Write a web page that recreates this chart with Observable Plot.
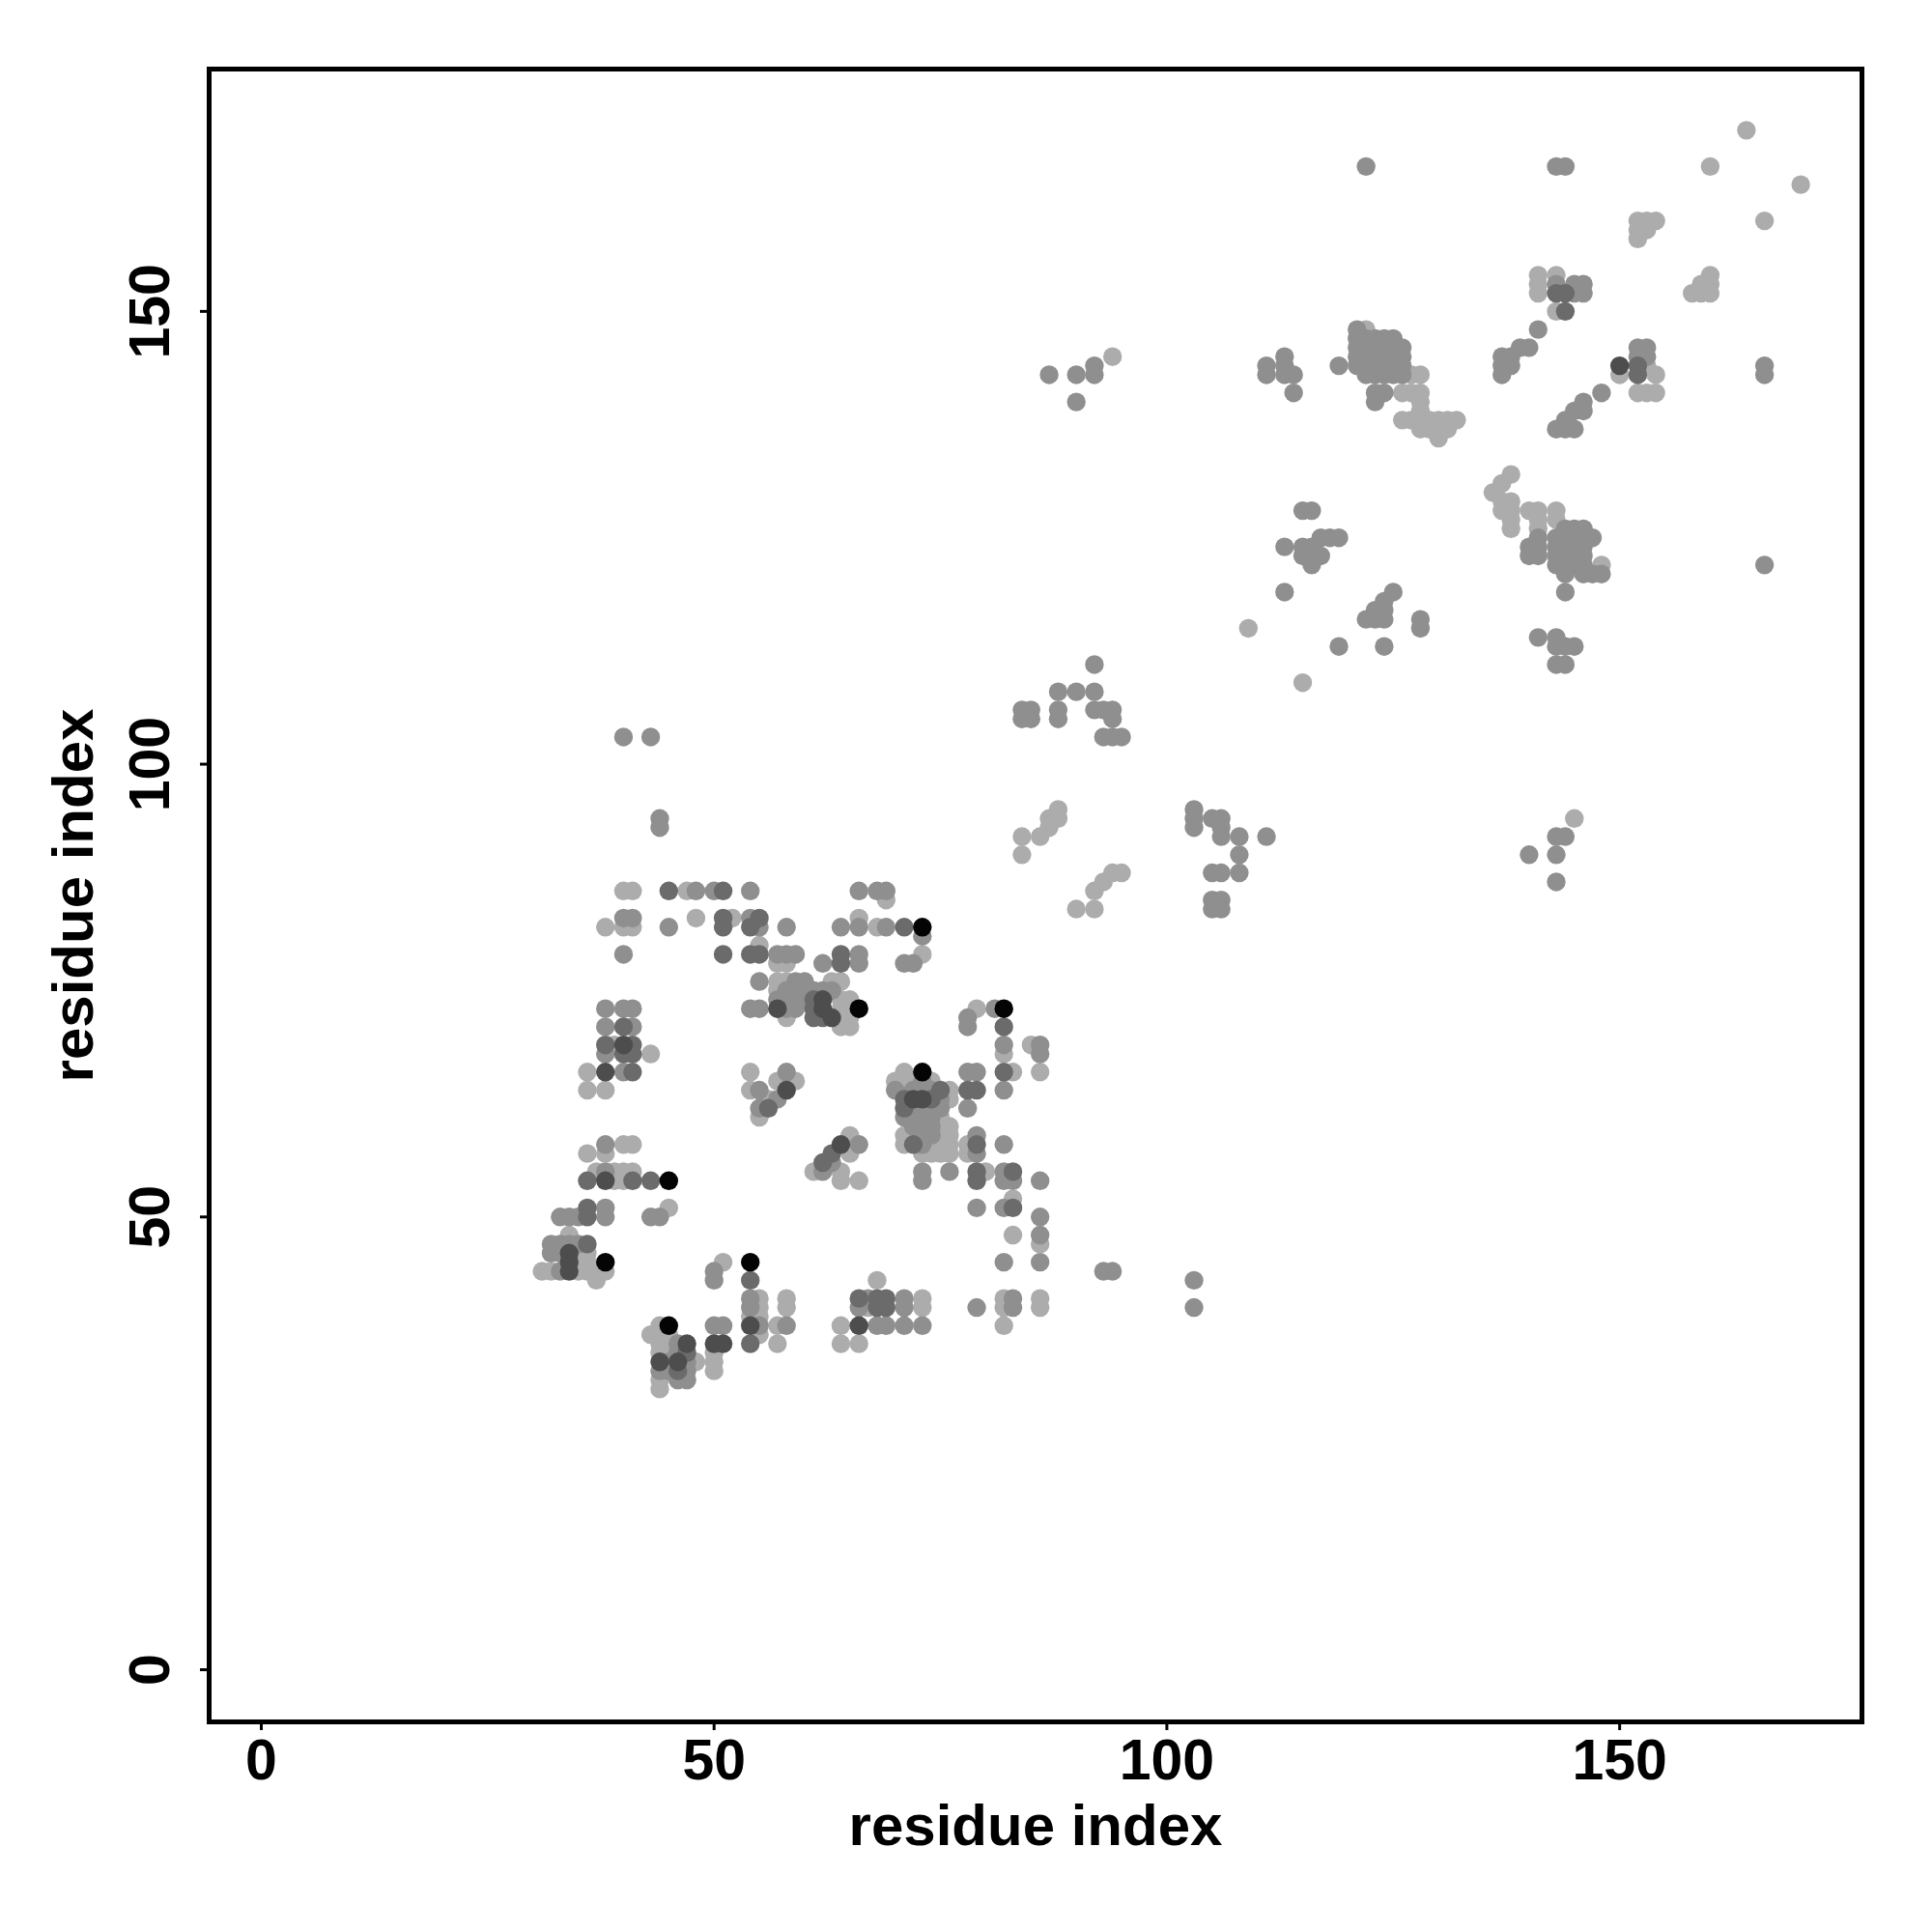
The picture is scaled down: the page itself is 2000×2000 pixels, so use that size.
<!DOCTYPE html>
<html><head><meta charset="utf-8">
<script src="https://cdn.jsdelivr.net/npm/d3@7"></script>
<script src="https://cdn.jsdelivr.net/npm/@observablehq/plot@0.6"></script>
<style>html,body{margin:0;padding:0;background:#fff;}</style>
</head><body><div id="chart"></div>
<script>
// Axis ticks and labels
const xTicks = [0, 50, 100, 150];
const yTicks = [0, 50, 100, 150];
const axisTitle = "residue index";
const residueRange = [1, 170];

// Predicted contacts [residue i, residue j], grouped by confidence class
const contactsLow = [
  [45,51],[34,48],[35,46],[36,46],[36,45],[31,44],[32,44],[35,44],[36,44],[37,44],[38,44],[37,43],
  [43,37],[44,38],[44,37],[45,37],[44,36],[45,36],[44,35],[45,35],[50,35],[48,34],[50,34],[50,33],[44,32],[44,31],
  [51,45],[54,39],[55,41],[55,40],[55,39],[55,37],[58,41],[58,40],[57,38],[57,36],
  [68,43],[73,41],[67,40],[73,40],[64,38],[64,36],[66,36],
  [82,41],[82,40],[82,38],[86,41],[86,40],
  [83,48],[86,47],[83,52],[80,55],[78,58],[78,57],
  [83,66],[86,66],[82,68],[85,69],[79,73],
  [36,66],[36,64],[38,64],[43,68],[39,69],
  [40,58],[41,58],[36,57],[38,57],[37,55],[39,55],[40,55],[41,55],[39,54],[40,54],
  [54,66],[59,65],[54,64],[57,65],[56,63],[55,61],
  [65,59],[65,57],[61,55],[64,55],[64,54],[66,54],
  [71,66],[70,65],[71,65],[72,65],[74,65],[71,64],[76,64],[76,63],[75,61],[75,60],[76,60],[71,59],[75,59],[76,59],
  [71,58],[74,58],[75,58],[76,58],[73,57],[74,57],[75,57],[76,57],
  [40,86],[41,86],[47,86],[69,85],[48,83],[52,83],[66,83],[38,82],[40,82],[41,82],[68,82],[55,80],[73,79],
  [57,78],[58,78],[57,76],[58,76],[63,76],[64,76],[57,75],[64,74],[65,74],[64,73],[65,73],[58,72],[64,72],[65,72],[64,71],[65,71],
  [109,115],[88,95],[87,94],[88,94],[87,93],[86,92],[84,92],[84,90],[95,88],[94,88],[93,87],[92,86],[92,84],[90,84],
  [115,109],[94,145],
  [138,132],[137,131],[136,130],[137,129],[138,129],[137,128],[138,128],[138,127],[138,126],[140,128],[141,128],[141,127],[141,126],
  [143,128],[143,127],[148,122],[145,94],
  [122,148],[127,143],[128,143],[126,141],[127,141],[128,141],[128,140],[128,139],[126,138],[127,138],[129,138],[130,138],
  [131,138],[132,138],[128,137],[129,137],[130,137],[131,137],[130,136],
  [143,150],[150,143],[141,154],[141,153],[141,152],[143,154],
  [153,144],[154,143],[152,141],[153,141],[154,141],
  [152,160],[153,160],[154,160],[152,159],[153,159],[152,158],
  [160,154],[160,153],[159,153],[158,152],[159,152],[160,152],
  [164,170],[160,166],[170,164],[166,160]
];
const contactsMid = [
  [38,51],[33,50],[34,50],[35,50],[38,50],[43,50],[44,50],
  [32,47],[33,47],[34,47],[35,47],[32,46],[33,46],[33,44],
  [50,38],[51,38],[46,36],[46,35],[45,34],[47,34],[44,33],[45,33],[47,33],[46,32],[47,32],
  [50,44],[50,43],[54,41],[54,40],[55,38],[58,38],
  [67,41],[71,41],[66,40],[71,40],[68,38],[69,38],[71,38],[73,38],
  [79,40],[83,41],[83,40],[93,44],[94,44],[103,43],[103,40],
  [82,45],[86,45],[86,48],[86,50],[79,51],[82,51],
  [73,55],[73,54],[76,55],[82,55],[82,54],[83,54],[86,54],
  [79,59],[79,57],[82,58],
  [78,66],[79,66],[82,64],[78,62],[82,69],[86,69],[86,68],[81,73],[78,72],[78,71],
  [38,73],[40,73],[41,73],[38,71],[41,71],[38,68],[40,66],[38,58],[38,55],
  [58,66],[55,64],[57,63],[55,62],[66,58],[63,56],[62,55],
  [73,65],[70,64],[72,64],[73,64],[74,64],[75,63],[72,62],[73,62],[74,62],[75,62],[71,61],[72,61],[73,61],[74,61],
  [72,60],[73,60],[74,60],[73,59],[74,59],[73,58],
  [40,83],[41,83],[54,83],[45,82],[55,82],[58,82],[64,82],[66,82],[69,82],[73,81],[40,79],[57,79],[58,79],[59,79],
  [66,79],[62,78],[66,78],[71,78],[72,78],
  [48,86],[50,86],[54,86],[66,86],[68,86],[69,86],
  [55,76],[59,76],[60,76],[58,75],[59,75],[60,75],[61,75],[62,75],[63,75],[57,74],[58,74],[59,74],[60,74],
  [54,73],[55,73],[58,73],[59,73],
  [40,103],[43,103],[44,94],[44,93],
  [92,111],[88,108],[90,108],[92,108],[84,106],[85,106],[84,105],[85,105],[88,106],[88,105],[92,106],[93,106],[94,106],[94,105],
  [93,103],[94,103],[95,103],
  [103,95],[103,94],[103,93],[105,94],[106,94],[106,93],[106,92],[108,92],[111,92],[108,90],[105,88],[106,88],[108,88],
  [105,85],[106,85],[105,84],[106,84],
  [87,143],[90,143],[92,144],[92,143],[90,140],
  [115,128],[116,128],[113,124],[115,124],[116,124],[117,125],[118,125],[119,125],[115,123],[116,123],[117,123],[116,122],[113,119],
  [125,119],[124,118],[123,117],[124,117],[122,116],[123,116],[124,116],[128,116],[128,115],[119,113],[124,113],
  [140,124],[140,123],[141,123],[141,125],[141,124],
  [144,126],[145,126],[146,126],[143,125],[144,125],[145,125],[146,125],[147,125],[143,124],[144,124],[145,124],[146,124],
  [143,123],[144,123],[145,123],[146,123],[143,122],[144,122],[145,122],[146,122],[144,121],[146,121],[147,121],[148,121],[144,119],
  [141,114],[143,114],[143,113],[144,113],[145,113],[143,111],[144,111],
  [143,92],[144,92],[140,90],[143,90],[143,87],
  [122,166],[143,166],[144,166],
  [119,144],[121,148],[121,147],[122,147],[123,147],[124,147],[125,147],[121,146],[122,146],[123,146],[124,146],[125,146],[126,146],
  [121,145],[122,145],[123,145],[124,145],[125,145],[126,145],[121,144],[122,144],[123,144],[124,144],[125,144],[126,144],
  [122,143],[123,143],[124,143],[125,143],[126,143],[123,141],[123,140],[124,141],
  [111,144],[111,143],[113,145],[113,144],[113,143],[114,143],[114,141],
  [141,148],[139,146],[140,146],[137,145],[138,145],[137,144],[138,144],[137,143],
  [148,141],[146,140],[145,139],[146,139],[144,138],[143,137],[145,137],[144,137],
  [143,153],[145,153],[146,153],[145,152],[146,152],
  [152,146],[153,146],[152,145],[153,145],
  [166,144],[166,143],[166,122]
];
const contactsHigh = [
  [36,51],[36,50],[36,47],[47,35],[46,33],[54,43],[54,36],
  [66,41],[68,41],[69,41],[68,40],[69,40],
  [83,51],[79,55],[83,55],[79,54],[79,58],[82,66],[78,64],[79,64],[82,71],
  [40,71],[38,69],[41,69],[40,68],[41,68],[41,66],[36,54],[41,54],[43,54],
  [56,62],[63,57],[62,56],
  [75,64],[71,63],[74,63],[71,62],[72,58],
  [45,86],[51,86],[51,83],[55,83],[51,82],[54,82],[71,82],[51,79],[54,79],[55,79],[64,79],[64,78],[61,74],[61,73],[61,72],[62,72],
  [143,152],[144,152],[144,150],[152,144],[152,143]
];
const contactsVeryHigh = [
  [34,46],[34,45],[34,44],[47,36],[50,36],[51,36],[44,34],[46,34],[54,38],[66,38],[38,66],[40,69],[38,54],
  [58,64],[64,58],[72,63],[73,63],[62,74],[57,73],[62,73],[63,72],[150,144]
];
const contactsTop = [
  [38,45],[45,54],[54,45],[45,38],[66,73],[73,82],[73,66],[82,73]
];
const classProbability = [0.02, 0.19, 0.39, 0.56, 0.98];

const groups = [contactsLow, contactsMid, contactsHigh, contactsVeryHigh, contactsTop];
const contacts = groups.flatMap((pairs, k) => pairs.map(([i, j]) => ({i, j, p: classProbability[k]})));

const pad = (residueRange[1] - residueRange[0]) * 0.04;
const domain = [residueRange[0] - pad, residueRange[1] + pad];

const chart = Plot.plot({
  width: 2000,
  height: 2000,
  marginLeft: 216,
  marginRight: 73,
  marginTop: 71,
  marginBottom: 218,
  x: {domain},
  y: {domain},
  color: {type: "linear", domain: [0, 1], range: ["#b0b0b0", "#000000"]},
  style: {fontFamily: "'Liberation Sans', Arial, Helvetica, sans-serif", fontWeight: "bold", background: "#fff"},
  marks: [
    Plot.dot(contacts, {x: "i", y: "j", r: 9.7, fill: "p", stroke: null}),
    Plot.frame({stroke: "#000", strokeWidth: 5}),
    Plot.axisX({ticks: xTicks, tickFormat: d => String(d), tickSize: 9, tickPadding: 9, strokeWidth: 3, fontSize: 59, fontWeight: "bold", label: null}),
    Plot.axisY({ticks: yTicks, tickFormat: d => String(d), tickSize: 9, tickPadding: 33, tickRotate: -90, strokeWidth: 3, fontSize: 59, fontWeight: "bold", label: null}),
    Plot.text([axisTitle], {text: d => d, frameAnchor: "bottom", dy: 127, lineAnchor: "bottom", textAnchor: "middle", fontSize: 60, fontWeight: "bold", fill: "#000"}),
    Plot.text([axisTitle], {text: d => d, frameAnchor: "left", rotate: -90, dx: -121, lineAnchor: "bottom", textAnchor: "middle", fontSize: 60, fontWeight: "bold", fill: "#000"})
  ]
});
document.getElementById("chart").appendChild(chart);
</script>
</body></html>
